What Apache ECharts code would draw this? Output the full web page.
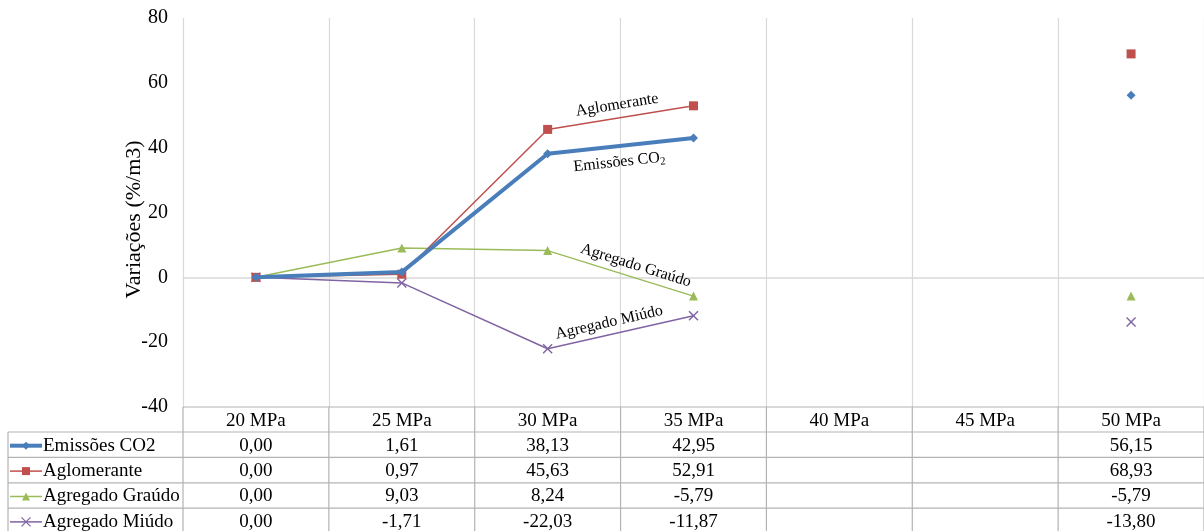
<!DOCTYPE html>
<html>
<head>
<meta charset="utf-8">
<script src="https://cdn.jsdelivr.net/npm/echarts@6/dist/echarts.min.js"></script>
<style>
  html, body { margin: 0; padding: 0; background: #fff; }
  #chart { width: 1204px; height: 531px; }
</style>
</head>
<body>
<div id="chart"></div>
<script>
// Concrete strength classes
const categories = ['20 MPa', '25 MPa', '30 MPa', '35 MPa', '40 MPa', '45 MPa', '50 MPa'];

// Variations per m3 (%), relative to 20 MPa
const emissoesCO2   = [0.00, 1.61, 38.13, 42.95, null, null, 56.15];
const aglomerante   = [0.00, 0.97, 45.63, 52.91, null, null, 68.93];
const agregadoGraudo = [0.00, 9.03, 8.24, -5.79, null, null, -5.79];
const agregadoMiudo = [0.00, -1.71, -22.03, -11.87, null, null, -13.80];

const seriesNames = ['Emissões CO2', 'Aglomerante', 'Agregado Graúdo', 'Agregado Miúdo'];
const yTicks = { min: -40, max: 80, interval: 20 };

const FONT = '"Liberation Serif", "Times New Roman", serif';
const colors = ['#4A7EBB', '#C0504D', '#9BBB59', '#8064A2'];
const crossSymbol = 'path://M0,1L1,0L5,4L9,0L10,1L6,5L10,9L9,10L5,6L1,10L0,9L4,5Z';
const symbols = ['diamond', 'rect', 'triangle', crossSymbol];
const symbolSizes = [9, 9, 9, 10];
const lineWidths = [4, 1.5, 1.5, 1.5];
const allData = [emissoesCO2, aglomerante, agregadoGraudo, agregadoMiudo];

const chart = echarts.init(document.getElementById('chart'), null, { renderer: 'canvas' });

chart.setOption({
  animation: false,
  grid: { left: 183, right: -6, top: 18, bottom: 124, containLabel: false },
  xAxis: {
    type: 'category',
    data: categories,
    boundaryGap: true,
    axisLabel: { show: false },
    axisTick: { show: false },
    axisLine: { show: true, onZero: true, lineStyle: { color: '#D9D9D9', width: 1.5 } },
    splitLine: { show: true, lineStyle: { color: '#D9D9D9', width: 1.2 } }
  },
  yAxis: {
    type: 'value',
    min: yTicks.min, max: yTicks.max, interval: yTicks.interval,
    name: 'Variações (%/m3)',
    nameLocation: 'middle',
    nameGap: 38,
    nameMoveOverlap: false,
    nameTextStyle: { fontFamily: FONT, fontSize: 22, color: '#000', padding: [0, 14, 0, 0] },
    axisLine: { show: false },
    axisTick: { show: false },
    splitLine: { show: false },
    axisLabel: { fontFamily: FONT, fontSize: 20, color: '#000', margin: 15 }
  },
  series: allData.map((d, i) => ({
    name: seriesNames[i],
    type: 'line',
    data: d,
    connectNulls: false,
    showAllSymbol: true,
    symbol: symbols[i],
    symbolSize: symbolSizes[i],
    z: 10 - i,
    lineStyle: { color: colors[i], width: lineWidths[i] },
    itemStyle: { color: colors[i] }
  }))
});

// Series name labels along the 30 → 35 MPa segment, and the data table below the plot
function decorate() {
  const g = [];
  const px = (xi, v) => chart.convertToPixel({ xAxisIndex: 0, yAxisIndex: 0 }, [xi, v]);

  // in-line labels: [series index, position along segment, perpendicular offset, text]
  const lineLabels = [
    [1, 0.49, -13, 'Aglomerante'],
    [0, 0.48, 16, 'Emissões CO{sub|2}'],
    [2, 0.58, -12, 'Agregado Graúdo'],
    [3, 0.44, -12, 'Agregado Miúdo']
  ];
  lineLabels.forEach(([si, t, off, txt]) => {
    const a = px(2, allData[si][2]);
    const b = px(3, allData[si][3]);
    const dx = b[0] - a[0], dy = b[1] - a[1];
    const len = Math.hypot(dx, dy);
    const nx = -dy / len, ny = dx / len; // perpendicular, pointing downwards on screen
    const cx = a[0] + dx * t + nx * off;
    const cy = a[1] + dy * t + ny * off;
    g.push({
      type: 'text', x: cx, y: cy, rotation: -Math.atan2(dy, dx), z: 50,
      style: {
        text: txt, fontFamily: FONT, fontSize: 16, fill: '#000',
        align: 'center', verticalAlign: 'middle',
        rich: { sub: { fontFamily: FONT, fontSize: 11, fill: '#000', padding: [8, 0, 0, 0] } }
      }
    });
  });

  // table geometry from the category axis
  const c0 = px(0, 0)[0], c1 = px(1, 0)[0];
  const band = c1 - c0;
  const tableTop = px(0, yTicks.min)[1];
  const headH = 25, rowH = 25.4;
  const leftEdge = 8;
  const plotLeft = c0 - band / 2;
  const rightEdge = px(categories.length - 1, 0)[0] + band / 2;
  const bottom = tableTop + headH + rowH * seriesNames.length;
  const border = { stroke: '#B3B3B3', lineWidth: 1.2 };

  // horizontal rules
  g.push({ type: 'line', shape: { x1: plotLeft, y1: tableTop, x2: rightEdge, y2: tableTop }, style: border });
  for (let r = 0; r <= seriesNames.length; r++) {
    const y = tableTop + headH + rowH * r;
    g.push({ type: 'line', shape: { x1: leftEdge, y1: y, x2: rightEdge, y2: y }, style: border });
  }
  // vertical rules
  g.push({ type: 'line', shape: { x1: leftEdge, y1: tableTop + headH, x2: leftEdge, y2: bottom }, style: border });
  for (let k = 0; k <= categories.length; k++) {
    const x = plotLeft + band * k;
    g.push({ type: 'line', shape: { x1: x, y1: tableTop, x2: x, y2: bottom }, style: border });
  }

  const cellText = (x, y, txt, align) => ({
    type: 'text', x: x, y: y, z: 20,
    style: { text: txt, fontFamily: FONT, fontSize: 19, fill: '#000', align: align || 'center', verticalAlign: 'middle' }
  });

  // header
  categories.forEach((c, i) => g.push(cellText(px(i, 0)[0], tableTop + headH / 2 + 2, c)));

  // rows
  allData.forEach((d, si) => {
    const yc = tableTop + headH + rowH * si + rowH / 2 + 1;
    // legend key
    g.push({ type: 'line', shape: { x1: 10, y1: yc, x2: 42, y2: yc },
      style: { stroke: colors[si], lineWidth: lineWidths[si] }, z: 20 });
    const s = symbolSizes[si] - 1;
    let marker;
    if (si === 0) marker = { type: 'polygon', shape: { points: [[26, yc - s / 2], [26 + s / 2, yc], [26, yc + s / 2], [26 - s / 2, yc]] }, style: { fill: colors[si] } };
    else if (si === 1) marker = { type: 'rect', shape: { x: 26 - s / 2, y: yc - s / 2, width: s, height: s }, style: { fill: colors[si] } };
    else if (si === 2) marker = { type: 'polygon', shape: { points: [[26, yc - s / 2], [26 + s / 2, yc + s / 2], [26 - s / 2, yc + s / 2]] }, style: { fill: colors[si] } };
    else marker = { type: 'polyline', shape: { points: [[26 - s / 2, yc - s / 2], [26 + s / 2, yc + s / 2]] }, style: { stroke: colors[si], lineWidth: 1.3 } };
    marker.z = 21;
    g.push(marker);
    if (si === 3) g.push({ type: 'polyline', z: 21, shape: { points: [[26 + s / 2, yc - s / 2], [26 - s / 2, yc + s / 2]] }, style: { stroke: colors[si], lineWidth: 1.3 } });
    g.push(cellText(43, yc, seriesNames[si], 'left'));
    d.forEach((v, i) => {
      if (v === null) return;
      g.push(cellText(px(i, 0)[0], yc, v.toFixed(2).replace('.', ',')));
    });
  });

  chart.setOption({ graphic: g });
}
decorate();
</script>
</body>
</html>
